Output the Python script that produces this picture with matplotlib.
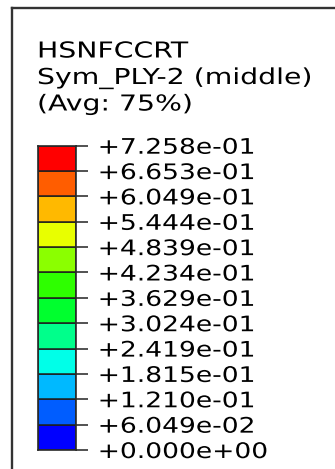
import matplotlib
matplotlib.use('Agg')
import matplotlib.pyplot as plt
from matplotlib.patheffects import AbstractPathEffect
from matplotlib.transforms import Affine2D
from matplotlib.lines import Line2D

# ---------------- data ----------------
title_lines = ["HSNFCCRT", "Sym_PLY-2 (middle)", "(Avg: 75%)"]
levels = [0.0, 0.06049, 0.1210, 0.1815, 0.2419, 0.3024, 0.3629,
          0.4234, 0.4839, 0.5444, 0.6049, 0.6653, 0.7258]
band_colors = ['#0000FF', '#005DFF', '#00B9FF', '#00FFE8', '#00FF8B', '#00FF2E',
               '#2EFF00', '#8BFF00', '#E8FF00', '#FFB900', '#FF5D00', '#FF0000']
tick_labels = [f"{v:+.3e}" for v in levels]


class Stretch(AbstractPathEffect):
    """Widen text horizontally about its own left anchor."""
    def __init__(self, sx):
        super().__init__()
        self.sx = sx

    def draw_path(self, renderer, gc, tpath, affine, rgbFace=None):
        x0, _ = affine.transform((0, 0))
        t = affine + Affine2D().translate(-x0, 0).scale(self.sx, 1).translate(x0, 0)
        renderer.draw_path(gc, tpath, t, rgbFace)


W, H = 335, 469
fig = plt.figure(figsize=(W / 100, H / 100), dpi=100)
fig.patch.set_facecolor('white')


def fx(px):
    return px / W


def fy(py):
    return 1 - py / H


# frame (left and top edges)
frame_kw = dict(transform=fig.transFigure, color='#333333', linewidth=1.7,
                solid_capstyle='projecting')
fig.add_artist(Line2D([fx(12.5), fx(12.5)], [fy(8.5), fy(H + 5)], **frame_kw))
fig.add_artist(Line2D([fx(12.5), fx(W + 5)], [fy(8.5), fy(8.5)], **frame_kw))

# title
baselines = [57.5, 84, 110.5]
for line, yb in zip(title_lines, baselines):
    fig.text(fx(37), fy(yb), line, fontsize=15.8, ha='left', va='baseline',
             color='black', family='DejaVu Sans', path_effects=[Stretch(1.29)])

# colour bar
ax = fig.add_axes([fx(37.5), fy(450), (75.7 - 37.5) / W, (450 - 145.7) / H])
heights = [b - a for a, b in zip(levels[:-1], levels[1:])]
ax.bar([0] * len(heights), heights, bottom=levels[:-1], width=1, align='edge',
       color=band_colors, edgecolor='#1e1e1e', linewidth=1.1)
ax.set_xlim(0, 1)
ax.set_ylim(levels[0], levels[-1])
ax.set_xticks([])
ax.yaxis.tick_right()
ax.set_yticks(levels)
ax.set_yticklabels(tick_labels)
ax.tick_params(axis='y', which='both', direction='out', length=12 * 0.72,
               width=1.1, color='#222222', pad=7.2, labelsize=15.4,
               labelcolor='black', left=False, right=True)
for lbl in ax.get_yticklabels():
    lbl.set_family('DejaVu Sans')
    lbl.set_path_effects([Stretch(1.24)])
for sp in ax.spines.values():
    sp.set_color('#2a2a2a')
    sp.set_linewidth(1.2)

fig.savefig('out.png', dpi=100, facecolor='white')
